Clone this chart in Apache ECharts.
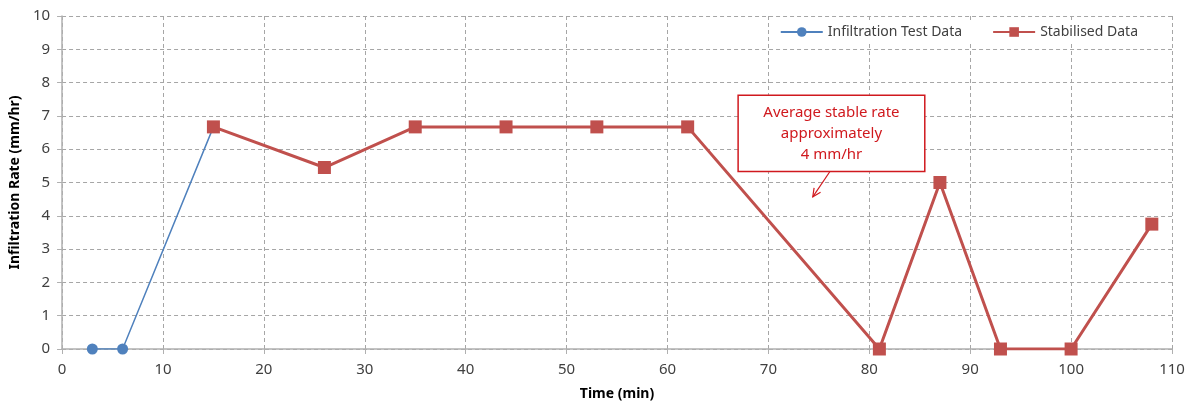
<!DOCTYPE html>
<html>
<head>
<meta charset="utf-8">
<script src="https://cdn.jsdelivr.net/npm/echarts@6/dist/echarts.min.js"></script>
<style>
  html, body { margin: 0; padding: 0; background: #fff; }
  #chart { width: 1196px; height: 410px; }
</style>
</head>
<body>
<div id="chart"></div>
<script>
// Infiltration test readings: [time (min), rate (mm/hr)]
const testTimes = [3, 6, 15];
const testRates = [0, 0, 6.67];

const stableTimes = [15, 26, 35, 44, 53, 62, 81, 87, 93, 100, 108];
const stableRates = [6.67, 5.45, 6.67, 6.67, 6.67, 6.67, 0, 5, 0, 0, 3.75];

const xTicks = [0, 10, 20, 30, 40, 50, 60, 70, 80, 90, 100, 110];
const yTicks = [0, 1, 2, 3, 4, 5, 6, 7, 8, 9, 10];

const noteLines = ['Average stable rate', 'approximately', '4 mm/hr'];

const FONT = '"Noto Sans", "Open Sans", sans-serif';
const BLUE = '#4f81bd';
const RED = '#c0504d';
const NOTE_RED = '#d0191e';

const chart = echarts.init(document.getElementById('chart'), null, { renderer: 'canvas' });

const pair = (xs, ys) => xs.map((x, i) => [x, ys[i]]);

chart.setOption({
  animation: false,
  backgroundColor: '#fff',
  grid: { left: 62, right: 24, top: 16, bottom: 61, containLabel: false },
  legend: {
    top: 21,
    right: 52,
    itemGap: 30,
    itemWidth: 42,
    itemHeight: 12,
    backgroundColor: '#fff',
    padding: [4, 6],
    textStyle: { fontFamily: FONT, fontSize: 14, color: '#404040' },
    data: ['Infiltration Test Data', 'Stabilised Data']
  },
  xAxis: {
    type: 'value',
    min: xTicks[0],
    max: xTicks[xTicks.length - 1],
    interval: 10,
    name: 'Time (min)',
    nameLocation: 'middle',
    nameGap: 38,
    nameTextStyle: { fontFamily: FONT, fontSize: 14, fontWeight: 'bold', color: '#000' },
    axisLine: { lineStyle: { color: '#b0b0b0', width: 1.5 } },
    axisTick: { show: true, length: 5, lineStyle: { color: '#b0b0b0' } },
    axisLabel: { fontFamily: FONT, fontSize: 15, color: '#404040', margin: 13 },
    splitLine: { show: true, lineStyle: { color: '#a6a6a6', type: [4, 3], width: 1 } }
  },
  yAxis: {
    type: 'value',
    min: yTicks[0],
    max: yTicks[yTicks.length - 1],
    interval: 1,
    name: 'Infiltration Rate (mm/hr)',
    nameLocation: 'middle',
    nameGap: 38,
    nameTextStyle: { fontFamily: FONT, fontSize: 14, fontWeight: 'bold', color: '#000' },
    axisLine: { show: true, lineStyle: { color: '#b0b0b0', width: 1.5 } },
    axisTick: { show: true, length: 5, lineStyle: { color: '#b0b0b0' } },
    axisLabel: { fontFamily: FONT, fontSize: 15, color: '#404040', margin: 12 },
    splitLine: { show: true, lineStyle: { color: '#a6a6a6', type: [4, 3], width: 1 } }
  },
  series: [
    {
      name: 'Infiltration Test Data',
      type: 'line',
      data: pair(testTimes, testRates),
      symbol: 'circle',
      symbolSize: 11,
      itemStyle: { color: BLUE },
      lineStyle: { color: BLUE, width: 1.5 },
      z: 2
    },
    {
      name: 'Stabilised Data',
      type: 'line',
      data: pair(stableTimes, stableRates),
      symbol: 'rect',
      symbolSize: 13,
      itemStyle: { color: RED },
      lineStyle: { color: RED, width: 3 },
      z: 3
    }
  ]
});

// Callout box with an arrow pointing at the falling segment
function drawNote() {
  const boxTL = chart.convertToPixel({ gridIndex: 0 }, [67.0, 7.62]);
  const boxBR = chart.convertToPixel({ gridIndex: 0 }, [85.5, 5.33]);
  const from = chart.convertToPixel({ gridIndex: 0 }, [76.1, 5.33]);
  const to = chart.convertToPixel({ gridIndex: 0 }, [74.4, 4.57]);
  const w = boxBR[0] - boxTL[0];
  const h = boxBR[1] - boxTL[1];

  const ang = Math.atan2(to[1] - from[1], to[0] - from[0]);
  const head = 9, spread = 0.45;
  const p1 = [to[0] - head * Math.cos(ang - spread), to[1] - head * Math.sin(ang - spread)];
  const p2 = [to[0] - head * Math.cos(ang + spread), to[1] - head * Math.sin(ang + spread)];

  chart.setOption({
    graphic: [
      {
        type: 'rect',
        shape: { x: boxTL[0], y: boxTL[1], width: w, height: h },
        style: { fill: '#fff', stroke: NOTE_RED, lineWidth: 1.5 },
        z: 10
      },
      {
        type: 'text',
        x: boxTL[0] + w / 2,
        y: boxTL[1] + h / 2,
        style: {
          text: noteLines.join('\n'),
          fill: NOTE_RED,
          font: '15px ' + FONT,
          align: 'center',
          verticalAlign: 'middle',
          lineHeight: 21
        },
        z: 11
      },
      {
        type: 'line',
        shape: { x1: from[0], y1: from[1], x2: to[0], y2: to[1] },
        style: { stroke: NOTE_RED, lineWidth: 1.2 },
        z: 10
      },
      {
        type: 'polyline',
        shape: { points: [p1, to, p2] },
        style: { stroke: NOTE_RED, lineWidth: 1.2, fill: null },
        z: 10
      }
    ]
  });
}
drawNote();
</script>
</body>
</html>
